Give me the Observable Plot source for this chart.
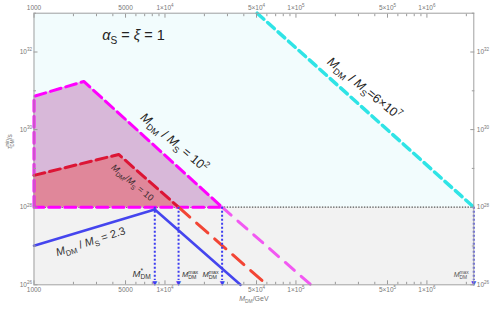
<!DOCTYPE html>
<html><head><meta charset="utf-8">
<script src="https://cdn.jsdelivr.net/npm/d3@7"></script>
<script src="https://cdn.jsdelivr.net/npm/@observablehq/plot@0.6"></script>
<style>body{margin:0;background:#fff}</style>
</head><body><div id="chart"></div>
<script>
// ---- data ----
const xDomain = [1000, 2.28e6];
const yDomain = [1e26, 1e33];
const threshold = 1e28;

// M_DM/M_S = 6e7 boundary (cyan)
const cyanX = [5.06e4, 2.28e6];
const cyanY = [1e33, 1e28];
// M_DM/M_S = 1e2 region (magenta)
const magentaX = [1000, 1000, 2400, 2.73e4, 1000];
const magentaY = [1e28, 7.2e30, 1.74e31, 1e28, 1e28];
const magentaTailX = [2.73e4, 1.3e5];
const magentaTailY = [1e28, 1e26];
// M_DM/M_S = 10 region (red)
const redX = [1000, 4430, 1.27e4];
const redY = [6.6e28, 2.29e29, 1e28];
const redTailX = [1.27e4, 6.0e4];
const redTailY = [1e28, 1e26];
// M_DM/M_S = 2.3 (blue)
const blueX = [1000, 8360, 3.77e4];
const blueY = [1.02e27, 8.7e27, 1e26];
// arrows marking M_DM limits
const arrowX = [8360, 1.27e4, 2.73e4, 2.28e6];
const arrowLabels = ["M^{*}_{DM}", "M_{DM}^{max}", "M_{DM}^{max}", "M_{DM}^{max}"];
const arrowLabelY = [1.95e26, 1.85e26, 1.85e26, 1.8e26];

// text labels
const labelText = ["α_{S} = ξ = 1", "M_{DM} / M_{S} = 10^{2}", "M_{DM} / M_{S}=6×10^{7}", "M_{DM}/M_{S} = 10", "M_{DM} / M_{S} = 2.3"];
const labelX = [5750, 1.18e4, 3.33e5, 5650, 2700];
const labelY = [2.7e32, 4.7e29, 1.15e31, 4.3e28, 1.3e27];

// ticks
const xTickValues = [1000, 5000, 1e4, 5e4, 1e5, 5e5, 1e6];
const xTickLabels = ["1000", "5000", "1×10^{4}", "5×10^{4}", "1×10^{5}", "5×10^{5}", "1×10^{6}"];
const xMinor = [];
for (const dec of [1e3, 1e4, 1e5, 1e6]) for (let k = 2; k <= 9; k++) if (k !== 5 && dec * k <= xDomain[1]) xMinor.push(dec * k);
const yTickValues = [1e26, 1e28, 1e30, 1e32];
const yTickLabels = ["10^{26}", "10^{28}", "10^{30}", "10^{32}"];
const yMinor = [1e27, 1e29, 1e31, 1e33];

// ---- tables ----
const zip = (xs, ys) => xs.map((x, i) => ({x, y: ys[i]}));
const cyan = zip(cyanX, cyanY);
const cyanRegion = [{x: xDomain[0], y: cyanY[0]}, ...cyan];
const magenta = zip(magentaX, magentaY);
const magentaTop = magenta.slice(1, 4);
const magentaTail = zip(magentaTailX, magentaTailY);
const red = zip(redX, redY);
const redTail = zip(redTailX, redTailY);
const blue = zip(blueX, blueY);
const arrows = arrowX.map((x, i) => ({x, label: arrowLabels[i], ly: arrowLabelY[i]}));
const labels = labelText.map((t, i) => ({t, x: labelX[i], y: labelY[i]}));
const band = [{x: xDomain[0]}, {x: xDomain[1]}];
const xTicks = xTickValues.map((v, i) => ({v, t: xTickLabels[i]}));
const yTicks = yTickValues.map((v, i) => ({v, t: yTickLabels[i]}));

const tickGray = "#9a9a9a", textGray = "#777";
const lbl = (i, o) => Plot.text([labels[i]], {x: "x", y: "y", text: "t", fill: "#222", ...o});
const none = () => "";

const chart = Plot.plot({
  width: 491, height: 312,
  marginLeft: 33.5, marginRight: 17.7, marginTop: 12.7, marginBottom: 27.7,
  style: {fontFamily: "'Liberation Sans', Arial, sans-serif", background: "#fff"},
  x: {type: "log", domain: xDomain},
  y: {type: "log", domain: yDomain},
  marks: [
    Plot.areaY(band, {x: "x", y1: yDomain[0], y2: threshold, fill: "#f2f2f2"}),
    Plot.areaY(cyanRegion, {x: "x", y1: threshold, y2: "y", fill: "#f2fcfd"}),
    Plot.ruleY([threshold], {stroke: "#555", strokeWidth: 1.3, strokeDasharray: "1.4,1.4"}),
    Plot.areaY(magentaTop, {x: "x", y1: threshold, y2: "y", fill: "#d8b8d9"}),
    Plot.areaY(red, {x: "x", y1: threshold, y2: "y", fill: "#e0879a"}),
    Plot.line(magenta, {x: "x", y: "y", stroke: "#ff00ff", strokeWidth: 3, strokeDasharray: "11,5"}),
    Plot.line(red, {x: "x", y: "y", stroke: "#dc1535", strokeWidth: 3, strokeDasharray: "11,5"}),
    Plot.line(magentaTail, {x: "x", y: "y", stroke: "#f258f2", strokeWidth: 3, strokeDasharray: "12,9"}),
    Plot.line(redTail, {x: "x", y: "y", stroke: "#f24535", strokeWidth: 3, strokeDasharray: "15,9"}),
    Plot.line(cyan, {x: "x", y: "y", stroke: "#2fe4e6", strokeWidth: 3.5, strokeDasharray: "9,5"}),
    Plot.line(blue, {x: "x", y: "y", stroke: "#4545ee", strokeWidth: 2.6}),
    Plot.ruleX(arrows, {x: "x", y1: threshold, y2: 1.3e26, stroke: "#3d3df0", strokeWidth: 2, strokeDasharray: "2,2"}),
    Plot.text(arrows, {x: "x", y: yDomain[0], text: () => "▼", fill: "#3d3df0", fontSize: 8.5, lineAnchor: "bottom", dy: 1.5}),
    Plot.text(arrows.slice(0, 1), {x: "x", y: "ly", text: "label", fontSize: 9.5, fill: "#333", textAnchor: "end", dx: -4}),
    Plot.text(arrows.slice(1, 2), {x: "x", y: "ly", text: "label", fontSize: 7.5, fill: "#333", textAnchor: "start", dx: 3.5}),
    Plot.text(arrows.slice(2, 3), {x: "x", y: "ly", text: "label", fontSize: 7.5, fill: "#333", textAnchor: "end", dx: -3.5}),
    Plot.text(arrows.slice(3, 4), {x: "x", y: "ly", text: "label", fontSize: 7, fill: "#555", textAnchor: "end", dx: -5}),
    lbl(0, {fontSize: 14.5}),
    lbl(1, {fontSize: 12.5, rotate: 40}),
    lbl(2, {fontSize: 12.5, rotate: 39}),
    lbl(3, {fontSize: 9, rotate: 40, fill: "#3a2a2e"}),
    lbl(4, {fontSize: 11, rotate: -18, fill: "#333"}),
    // axis ticks (inward)
    Plot.axisX(xTickValues, {anchor: "bottom", tickSize: -4, tickFormat: none, stroke: tickGray, label: null}),
    Plot.axisX(xTickValues, {anchor: "top", tickSize: -4, tickFormat: none, stroke: tickGray, label: null}),
    Plot.axisX(xMinor, {anchor: "bottom", tickSize: -2.5, tickFormat: none, stroke: tickGray, label: null}),
    Plot.axisX(xMinor, {anchor: "top", tickSize: -2.5, tickFormat: none, stroke: tickGray, label: null}),
    Plot.axisY(yTickValues, {anchor: "left", tickSize: -4, tickFormat: none, stroke: tickGray, label: null}),
    Plot.axisY(yTickValues, {anchor: "right", tickSize: -4, tickFormat: none, stroke: tickGray, label: null}),
    Plot.axisY(yMinor, {anchor: "left", tickSize: -2.5, tickFormat: none, stroke: tickGray, label: null}),
    Plot.axisY(yMinor, {anchor: "right", tickSize: -2.5, tickFormat: none, stroke: tickGray, label: null}),
    // tick labels
    Plot.text(xTicks, {x: "v", text: "t", frameAnchor: "bottom", lineAnchor: "top", dy: 2.5, fontSize: 6.5, fill: textGray}),
    Plot.text(xTicks, {x: "v", text: "t", frameAnchor: "top", lineAnchor: "bottom", dy: -3, fontSize: 6.5, fill: textGray}),
    Plot.text(yTicks, {y: "v", text: "t", frameAnchor: "left", textAnchor: "end", dx: -2, fontSize: 6.5, fill: textGray}),
    Plot.text(yTicks, {y: "v", text: "t", frameAnchor: "right", textAnchor: "start", dx: 3, fontSize: 6.5, fill: textGray}),
    Plot.text(["M_{DM}/GeV"], {frameAnchor: "bottom", dy: 16, fontSize: 7, fill: textGray}),
    Plot.text(["τ_{DM}^{min}/s"], {frameAnchor: "left", dx: -24, rotate: -90, fontSize: 6.5, fill: textGray}),
    Plot.frame({stroke: "#a0a0a0", strokeWidth: 1})
  ]
});
document.getElementById("chart").appendChild(chart);

// ---- rich text: _{sub}, ^{sup}, italic M/α/ξ/τ ----
const NS = "http://www.w3.org/2000/svg";
const ITAL = new Set(["M", "α", "ξ", "τ"]);
chart.querySelectorAll("text").forEach(t => {
  const src = t.textContent;
  if (!/[_^]\{/.test(src) && ![...src].some(c => ITAL.has(c))) return;
  const fs = parseFloat(getComputedStyle(t).fontSize) || 10;
  const parts = [];
  const re = /([_^])\{([^}]*)\}/g; let last = 0, m;
  while ((m = re.exec(src))) {
    if (m.index > last) parts.push({s: src.slice(last, m.index), mode: 0});
    parts.push({s: m[2], mode: m[1] === "_" ? 1 : -1});
    last = re.lastIndex;
  }
  if (last < src.length) parts.push({s: src.slice(last), mode: 0});
  while (t.firstChild) t.removeChild(t.firstChild);
  let cur = 0, prevMode = 0, prevLen = 0;
  parts.forEach(p => {
    const runs = [];
    if (p.mode === 0) {
      for (const c of p.s) {
        const it = ITAL.has(c);
        if (runs.length && runs[runs.length - 1].it === it) runs[runs.length - 1].s += c;
        else runs.push({s: c, it});
      }
    } else runs.push({s: p.s, it: false});
    runs.forEach((r, ri) => {
      const ts = document.createElementNS(NS, "tspan");
      if (ri === 0) {
        const target = p.mode === 1 ? fs * 0.28 : p.mode === -1 ? -fs * 0.42 : 0;
        if (target - cur !== 0) ts.setAttribute("dy", target - cur);
        cur = target;
        if (p.mode && prevMode && p.mode !== prevMode) ts.setAttribute("dx", -prevLen);
      }
      if (p.mode) ts.setAttribute("font-size", fs * 0.7);
      if (r.it) ts.setAttribute("font-style", "italic");
      ts.textContent = r.s;
      t.appendChild(ts);
      if (p.mode) prevLen = ts.getComputedTextLength();
    });
    prevMode = p.mode;
  });
});
</script></body></html>
